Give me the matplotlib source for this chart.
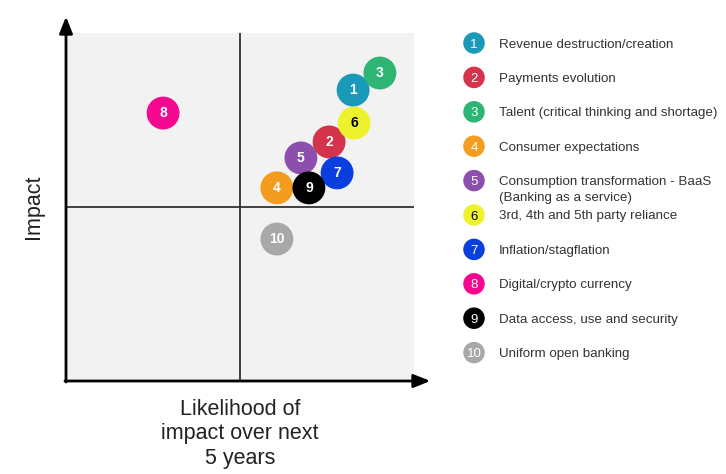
import matplotlib.pyplot as plt

plt.rcParams['font.family'] = ['Liberation Sans', 'DejaVu Sans']

# risk bubbles: likelihood (x) and impact (y), both on a 0..10 scale
ids = ['1', '2', '3', '4', '5', '6', '7', '8', '9', '10']
likelihood = [8.25, 7.56, 9.02, 6.06, 6.75, 8.28, 7.79, 2.79, 6.98, 6.06]
impact = [8.36, 6.87, 8.85, 5.55, 6.41, 7.41, 5.98, 7.70, 5.55, 4.08]
names = ['Revenue destruction/creation',
         'Payments evolution',
         'Talent (critical thinking and shortage)',
         'Consumer expectations',
         'Consumption transformation - BaaS\n(Banking as a service)',
         '3rd, 4th and 5th party reliance',
         'Inflation/stagflation',
         'Digital/crypto currency',
         'Data access, use and security',
         'Uniform open banking']
colors = ['#1a9ab8', '#d4334b', '#2db574', '#f39c1e', '#8d4fae',
          '#eef22c', '#0a3ede', '#f6078f', '#000000', '#a8a8a8']
text_colors = ['white'] * 10
text_colors[5] = 'black'

W, H = 726, 474
fig = plt.figure(figsize=(W / 100, H / 100), dpi=100)

# main quadrant axes, placed in pixels
x0, y0, side = 66, 33, 348
ax = fig.add_axes([x0 / W, (H - y0 - side) / H, side / W, side / H])
ax.set_xlim(0, 10)
ax.set_ylim(0, 10)
ax.set_facecolor('#f2f2f2')
for s in ax.spines.values():
    s.set_visible(False)
ax.set_xticks([])
ax.set_yticks([])

ax.axvline(5, color='#333333', lw=1.3)
ax.axhline(5, color='#333333', lw=1.3)

# axes with arrow heads
arrow = dict(arrowstyle='-|>,head_length=1.0,head_width=0.4', color='black',
             lw=2, shrinkA=0, shrinkB=0)
ax.annotate('', xy=(0, 10.47), xytext=(0, -0.03), arrowprops=arrow,
            annotation_clip=False)
ax.annotate('', xy=(10.47, 0), xytext=(-0.03, 0), arrowprops=arrow,
            annotation_clip=False)

ax.scatter(likelihood, impact, s=560, c=colors, edgecolors='none', zorder=3,
           clip_on=False)
for i in range(len(ids)):
    ax.text(likelihood[i], impact[i], ids[i], color=text_colors[i],
            fontsize=10, fontweight='bold', ha='center', va='center', zorder=4)

fig.text(33 / W, 1 - 207 / H, 'Impact', rotation=90, fontsize=15.5,
         ha='center', va='center', color='#222222')
fig.text(240 / W, 1 - 434 / H, 'Likelihood of\nimpact over next\n5 years',
         fontsize=15.5, ha='center', va='center', color='#222222',
         linespacing=1.2)

# legend drawn in pixel space
lax = fig.add_axes([0, 0, 1, 1])
lax.set_xlim(0, W)
lax.set_ylim(H, 0)
lax.axis('off')
ly = [43 + 34.4 * i for i in range(len(ids))]
lax.scatter([474] * len(ids), ly, s=240, c=colors, edgecolors='none')
for i in range(len(ids)):
    lax.text(474, ly[i], ids[i], color=text_colors[i], fontsize=9.5,
             ha='center', va='center_baseline')
    for k, line in enumerate(names[i].split('\n')):
        lax.text(499, ly[i] + 16 * k, line, color='#333333', fontsize=9.6,
                 ha='left', va='center_baseline')

fig.savefig('out.png', dpi=100, facecolor='white')
